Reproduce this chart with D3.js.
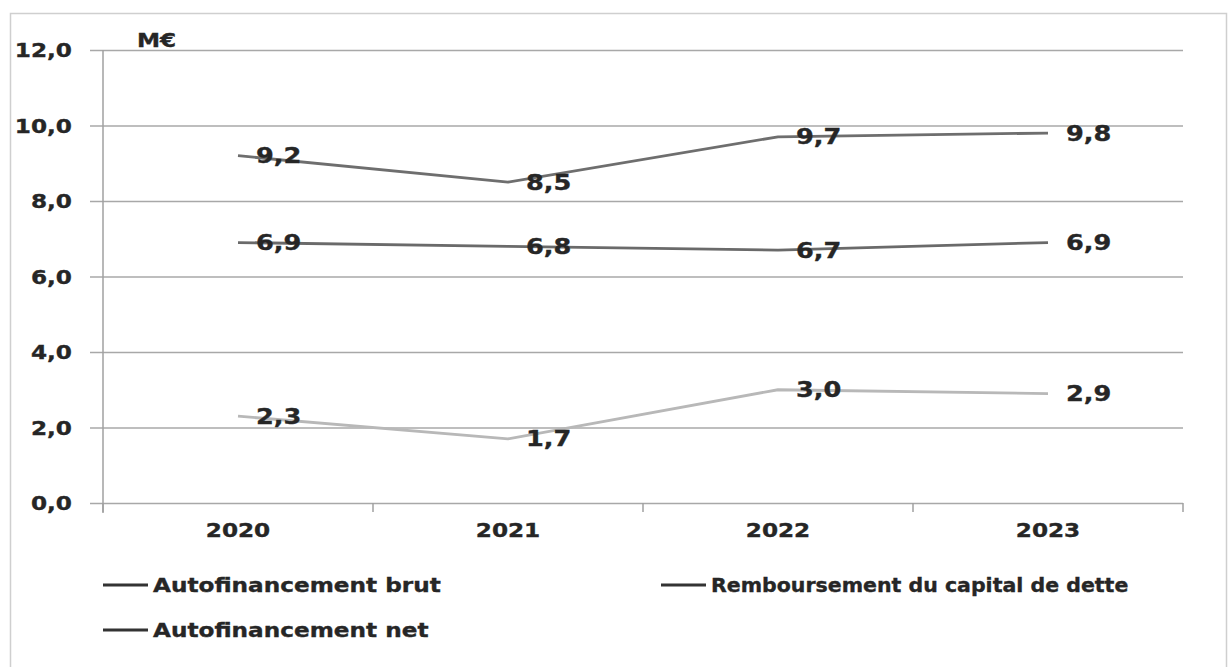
<!DOCTYPE html>
<html>
<head>
<meta charset="utf-8">
<script src="https://cdn.jsdelivr.net/npm/d3@7"></script>
<style>
  html, body { margin: 0; padding: 0; background: #fff; }
  svg { display: block; }
  text { font-family: "DejaVu Sans", Verdana, sans-serif; font-weight: bold; fill: #262626; stroke: #262626; stroke-width: 0.35px; }
</style>
</head>
<body>
<svg id="chart" width="1228" height="667"></svg>
<script>
// Chart data
const years = ["2020", "2021", "2022", "2023"];
const brut = [9.2, 8.5, 9.7, 9.8];
const remboursement = [6.9, 6.8, 6.7, 6.9];
const net = [2.3, 1.7, 3.0, 2.9];
const yTicks = [0, 2, 4, 6, 8, 10, 12];
const seriesNames = ["Autofinancement brut", "Remboursement du capital de dette", "Autofinancement net"];
const unitLabel = "M€";

const fmt = v => v.toFixed(1).replace(".", ",");
const SX = 1.22; // horizontal stretch of the lettering

const svg = d3.select("#chart");

// outer frame
svg.append("rect")
  .attr("x", 10.5).attr("y", 13.5)
  .attr("width", 1216).attr("height", 700)
  .attr("fill", "none").attr("stroke", "#cfcfcf").attr("stroke-width", 1.5);

const x = d3.scaleBand().domain(years).range([103, 1183]);
const y = d3.scaleLinear().domain([0, 12]).range([503, 50]);
const cx = d => x(d) + x.bandwidth() / 2;

// horizontal gridlines
const grid = svg.append("g")
  .attr("transform", "translate(90,0)")
  .call(d3.axisRight(y).tickValues(yTicks).tickSize(1093).tickFormat(""));
grid.select(".domain").remove();
grid.selectAll("line").attr("stroke", "#a8a8a8").attr("stroke-width", 1.6);

// vertical axis line
svg.append("line")
  .attr("x1", 103).attr("x2", 103).attr("y1", y(12)).attr("y2", y(0) + 10)
  .attr("stroke", "#a0a0a0").attr("stroke-width", 1.5);

// y tick labels
const yAxis = svg.append("g")
  .attr("transform", "translate(72,0)")
  .call(d3.axisLeft(y).tickValues(yTicks).tickSize(0).tickPadding(0).tickFormat(fmt));
yAxis.select(".domain").remove();
yAxis.selectAll("text")
  .attr("x", null).attr("dy", "0.36em")
  .attr("transform", `scale(${SX},1)`)
  .style("font-size", "19px").attr("text-anchor", "end")
  .attr("fill", "#262626");

// x axis with category boundary ticks
const xAxis = svg.append("g")
  .attr("transform", `translate(0,${y(0)})`)
  .call(d3.axisBottom(x).tickSize(0).tickPadding(0));
xAxis.select(".domain").remove();
xAxis.selectAll("text")
  .attr("y", 27).attr("dy", "0.36em")
  .attr("x", null)
  .attr("transform", `scale(${SX},1)`)
  .style("font-size", "19px").attr("fill", "#262626");
const bounds = years.map(d => x(d)).concat([x.range()[1]]);
svg.append("g").selectAll("line").data(bounds).join("line")
  .attr("x1", d => d).attr("x2", d => d)
  .attr("y1", y(0)).attr("y2", y(0) + 9)
  .attr("stroke", "#a0a0a0").attr("stroke-width", 1.5);

// unit label
svg.append("text")
  .attr("transform", `translate(137,47) scale(${SX},1)`)
  .style("font-size", "19px").text(unitLabel);

// series lines
const series = [
  { name: seriesNames[0], values: brut, color: "#6e6e6e" },
  { name: seriesNames[1], values: remboursement, color: "#6a6a6a" },
  { name: seriesNames[2], values: net, color: "#b8b8b8" }
];
const line = d3.line().x(d => cx(d.year)).y(d => y(d.v));
series.forEach(s => {
  const pts = years.map((yr, i) => ({ year: yr, v: s.values[i] }));
  svg.append("path").datum(pts)
    .attr("d", line)
    .attr("fill", "none").attr("stroke", s.color)
    .attr("stroke-width", 2.8).attr("stroke-linejoin", "round");
});

// data labels, right of each point
series.forEach(s => {
  svg.append("g").selectAll("text")
    .data(years.map((yr, i) => ({ year: yr, v: s.values[i] })))
    .join("text")
    .attr("transform", d => `translate(${cx(d.year) + 18},${y(d.v)}) scale(${SX},1)`)
    .attr("dy", "0.36em")
    .style("font-size", "21px")
    .text(d => fmt(d.v));
});

// legend
const legendItems = [
  { name: seriesNames[0], lx: 103, ly: 585, sx: SX },
  { name: seriesNames[1], lx: 661, ly: 585, sx: 1.08 },
  { name: seriesNames[2], lx: 103, ly: 630, sx: SX }
];
const lg = svg.append("g").selectAll("g").data(legendItems).join("g")
  .attr("transform", d => `translate(${d.lx},${d.ly})`);
lg.append("line").attr("x1", 0).attr("x2", 45).attr("y1", 0).attr("y2", 0)
  .attr("stroke", "#333").attr("stroke-width", 3);
lg.append("text")
  .attr("transform", d => `translate(50,0) scale(${d.sx},1)`)
  .attr("dy", "0.36em").style("font-size", "19px")
  .text(d => d.name);
</script>
</body>
</html>
